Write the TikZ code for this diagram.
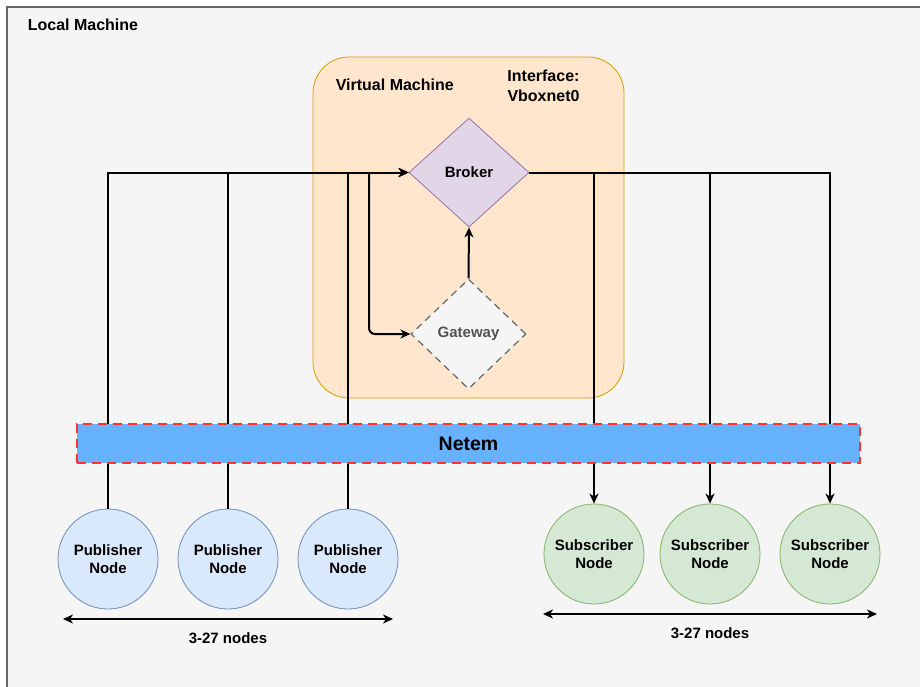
\documentclass[tikz,border=0pt]{standalone}
\usepackage{fontspec}
\setmainfont{Liberation Sans}
\usetikzlibrary{arrows.meta,shapes.geometric,positioning}
\definecolor{boxfill}{HTML}{F5F5F5}
\definecolor{boxline}{HTML}{666666}
\definecolor{vmfill}{HTML}{FFE6CC}
\definecolor{vmline}{HTML}{D79B00}
\definecolor{brokerfill}{HTML}{E1D5E7}
\definecolor{brokerline}{HTML}{9673A6}
\definecolor{pubfill}{HTML}{DAE8FC}
\definecolor{publine}{HTML}{6C8EBF}
\definecolor{subfill}{HTML}{D5E8D4}
\definecolor{subline}{HTML}{82B366}
\definecolor{netemfill}{HTML}{66B2FF}
\definecolor{netemline}{HTML}{FF3333}

\begin{document}
\begin{tikzpicture}[x=1pt,y=-1pt,>={Stealth[length=10pt,width=9pt,inset=3pt]},line width=2pt,
  font=\fontsize{15}{18}\selectfont\bfseries,
  pubnode/.style={circle,draw=publine,fill=pubfill,line width=0.8pt,
    minimum size=100pt,inner sep=0pt,align=center},
  subnode/.style={circle,draw=subline,fill=subfill,line width=0.8pt,
    minimum size=100pt,inner sep=0pt,align=center},
  decide/.style={diamond,inner sep=0pt,line width=0.8pt},
  node distance=120pt,on grid]
\useasboundingbox (0,0) rectangle (920,686);
\draw[draw=boxline,fill=boxfill,line width=1.3pt] (7,7) rectangle (935,700);
\node[anchor=west,font=\fontsize{16}{19}\selectfont\bfseries] (local) at (23.5,25) {Local Machine};

% virtual machine
\node[draw=vmline,fill=vmfill,rounded corners=36pt,line width=0.8pt,
  minimum width=311pt,minimum height=341pt] (vm) at (468.5,227.5) {};
\node[anchor=west,font=\fontsize{16}{19}\selectfont\bfseries] (vmlabel) at (331.5,85) {Virtual Machine};
\node[align=center,font=\fontsize{16}{20}\selectfont\bfseries] (iface) at (543.5,86) {Interface:\\Vboxnet0};
\node[decide,draw=brokerline,fill=brokerfill,minimum width=120pt,minimum height=109pt] (broker) at (469,172.5) {Broker};
\node[decide,draw=boxline,fill=boxfill,dashed,dash pattern=on 7pt off 5pt,line width=1.2pt,text=boxline!80!black,
  minimum width=115pt,minimum height=110pt] (gw) at (468.5,334) {Gateway};

% nodes
\node[pubnode] (pub1) at (108,559) {Publisher\\Node};
\node[pubnode] (pub2) [right=of pub1] {Publisher\\Node};
\node[pubnode] (pub3) [right=of pub2] {Publisher\\Node};
\node[subnode] (sub1) at (594,554) {Subscriber\\Node};
\node[subnode] (sub2) [right=116pt of sub1] {Subscriber\\Node};
\node[subnode] (sub3) [right=of sub2] {Subscriber\\Node};

% connectors
\coordinate (split) at (369,172.5);
\draw[->] (pub1.north) |- (broker.west);
\draw[->] (pub2.north) |- (broker.west);
\draw[->] (pub3.north) |- (broker.west);
\draw[->,rounded corners=6pt] (split) |- (gw.west);
\draw[->] (gw.north) -- (broker.south);
\draw[->] (broker.east) -| (sub1.north);
\draw[->] (broker.east) -| (sub2.north);
\draw[->] (broker.east) -| (sub3.north);

% netem
\node[draw=netemline,fill=netemfill,dash pattern=on 9pt off 6pt,line width=2.5pt,
  minimum width=783pt,minimum height=39pt,font=\fontsize{19.5}{22}\selectfont\bfseries] (netem) at (468.5,443.5) {Netem};

% counts
\coordinate (pl) at (63,619);
\coordinate (pr) at (393,619);
\coordinate (sl) at (543,614);
\coordinate (sr) at (877,614);
\draw[<->] (pl) -- (pr);
\draw[<->] (sl) -- (sr);
\node (pubcount) at (228,638) {3-27 nodes};
\node (subcount) at (710,633) {3-27 nodes};
\end{tikzpicture}
\end{document}
